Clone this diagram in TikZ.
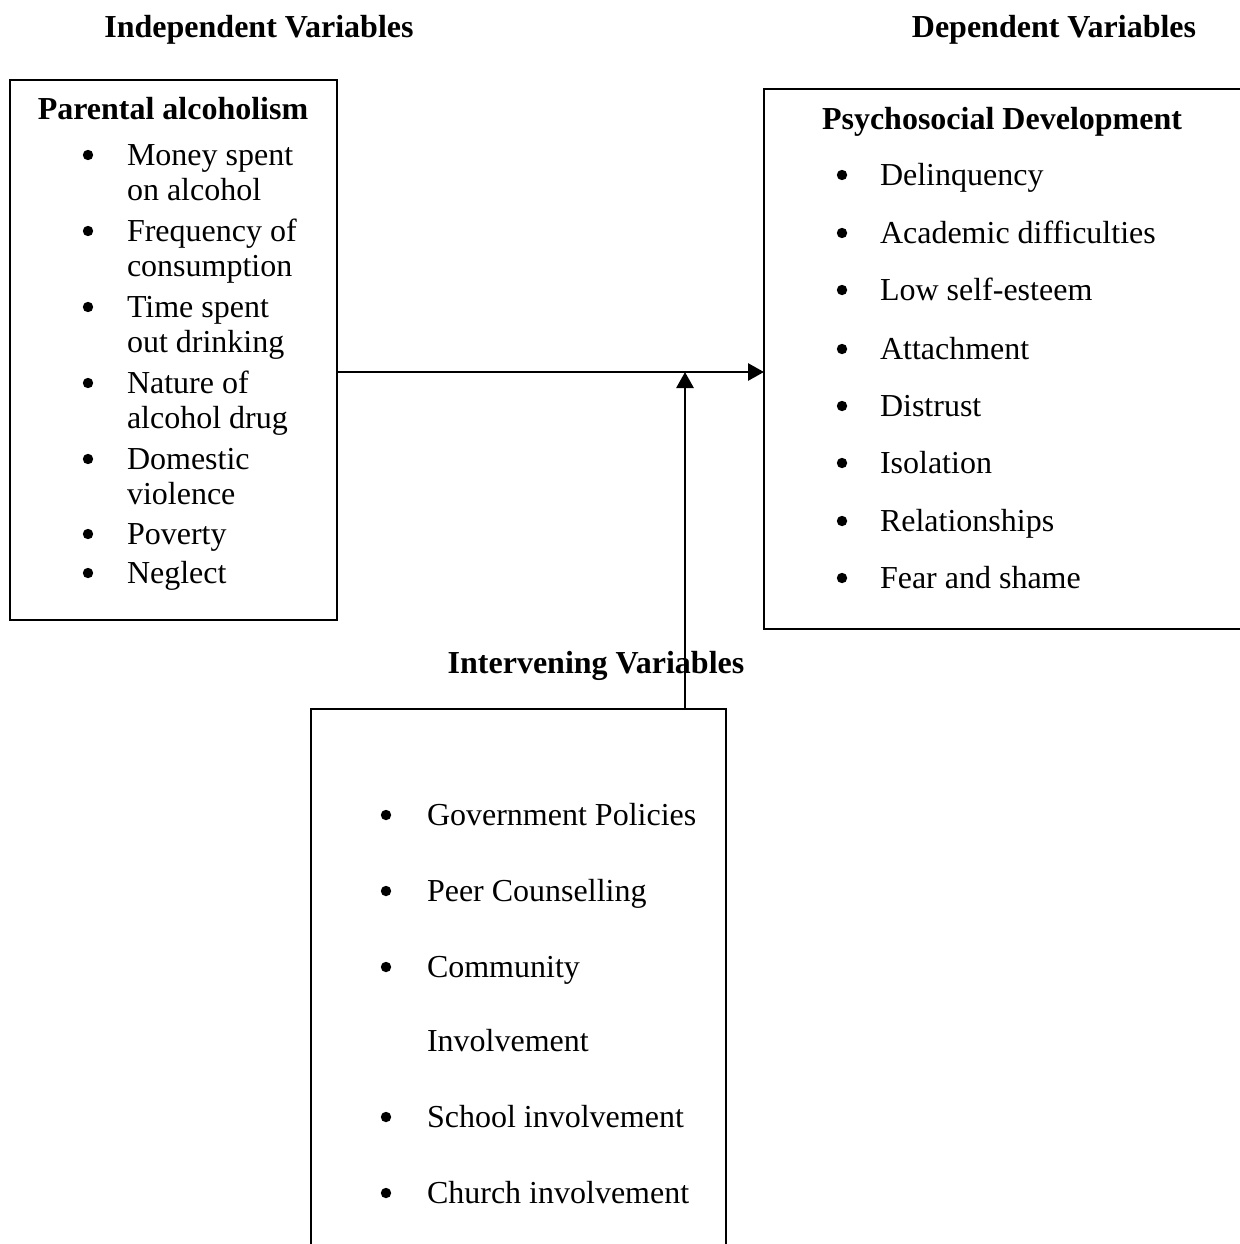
\documentclass[tikz,border=0pt]{standalone}
\usepackage{fontspec}
\setmainfont{Liberation Serif}
\usetikzlibrary{arrows.meta}
\begin{document}
\begin{tikzpicture}[x=1pt,y=-1pt,
  box/.style={draw=black, line width=2.2pt, inner sep=0pt, outer sep=0pt},
  txt/.style={inner sep=0pt, outer sep=0pt, anchor=base west, font=\fontsize{32}{38}\selectfont},
  head/.style={inner sep=0pt, outer sep=0pt, anchor=base, font=\fontsize{32}{38}\selectfont\bfseries},
  arr/.style={line width=2.8pt, -{Triangle[length=16pt,width=17pt]}},
  bul/.style={fill=black}
]
\useasboundingbox (0,0) rectangle (1239,1244);

% headers
\node[head] (hind) at (259,38) {Independent Variables};
\node[head] (hdep) at (1054,38) {Dependent Variables};

% boxes
\node[box, minimum width=327pt, minimum height=540pt] (ivbox) at (173.5,350) {};
\node[box, minimum width=486pt, minimum height=540pt] (dvbox) at (1007,359) {};
\node[box, minimum width=415pt, minimum height=581pt] (inbox) at (518.5,999.5) {};

\node[head] (hint) at (596,673) {Intervening Variables};

% independent box content
\node[head] (tpa) at (173,120) {Parental alcoholism};
\foreach \y in {155,231,307,383,459,534,573} \fill[bul] (88,\y) circle (5.2pt);
\node[txt] (a1) at (127,165) {Money spent};
\node[txt] (a2) at (127,200) {on alcohol};
\node[txt] (a3) at (127,241) {Frequency of};
\node[txt] (a4) at (127,276) {consumption};
\node[txt] (a5) at (127,317) {Time spent};
\node[txt] (a6) at (127,352) {out drinking};
\node[txt] (a7) at (127,393) {Nature of};
\node[txt] (a8) at (127,428) {alcohol drug};
\node[txt] (a9) at (127,469) {Domestic};
\node[txt] (a10) at (127,504) {violence};
\node[txt] (a11) at (127,544) {Poverty};
\node[txt] (a12) at (127,583) {Neglect};

% dependent box content
\node[head] (tpd) at (1002,130) {Psychosocial Development};
\foreach \y in {175,233,290,349,406,463,521,578} \fill[bul] (842,\y) circle (5.2pt);
\node[txt] (d1) at (880,185) {Delinquency};
\node[txt] (d2) at (880,243) {Academic difficulties};
\node[txt] (d3) at (880,300) {Low self-esteem};
\node[txt] (d4) at (880,359) {Attachment};
\node[txt] (d5) at (880,416) {Distrust};
\node[txt] (d6) at (880,473) {Isolation};
\node[txt] (d7) at (880,531) {Relationships};
\node[txt] (d8) at (880,588) {Fear and shame};

% intervening box content
\foreach \y in {815,891,967,1117,1193} \fill[bul] (386,\y) circle (5.2pt);
\node[txt] (i1) at (427,825) {Government Policies};
\node[txt] (i2) at (427,901) {Peer Counselling};
\node[txt] (i3) at (427,977) {Community};
\node[txt] (i4) at (427,1051) {Involvement};
\node[txt] (i5) at (427,1127) {School involvement};
\node[txt] (i6) at (427,1203) {Church involvement};

% connectors
\coordinate (hline) at (0,372);
\coordinate (junction) at (685,372);
\draw[arr] (ivbox.east |- hline) -- (dvbox.west |- hline);
\draw[arr] (inbox.north -| junction) -- (junction);
\end{tikzpicture}
\end{document}
